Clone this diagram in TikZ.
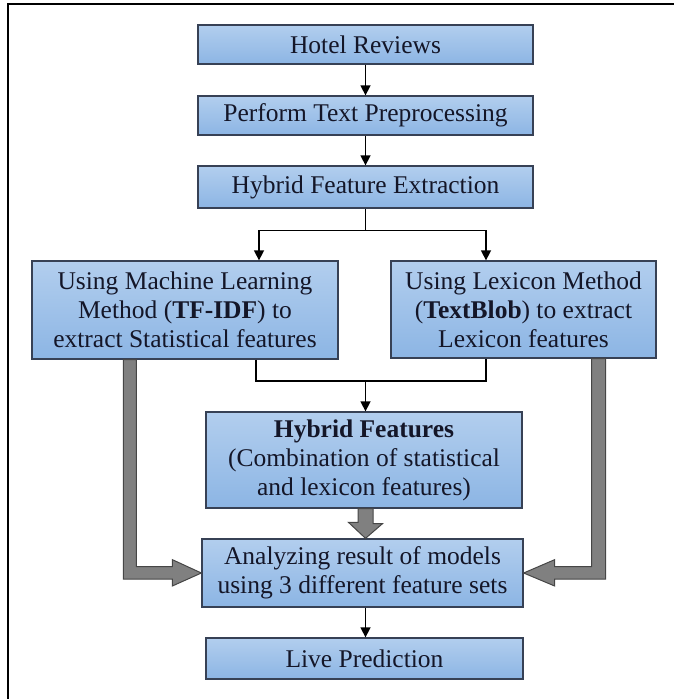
\documentclass[tikz,border=0pt]{standalone}
\usepackage{fontspec}
\setmainfont{Liberation Serif}
\usetikzlibrary{arrows.meta,calc}
\definecolor{boxtop}{RGB}{178,206,238}
\definecolor{boxbot}{RGB}{140,181,228}
\definecolor{boxline}{RGB}{55,65,85}
\definecolor{txt}{RGB}{20,22,40}
\definecolor{garrow}{RGB}{128,128,128}
\definecolor{garrowline}{RGB}{70,70,70}
\tikzset{
  stepbox/.style={draw=boxline, line width=1.3pt, top color=boxtop, bottom color=boxbot,
    inner sep=0pt, align=center, text=txt, font=\fontsize{25.5}{29}\selectfont},
  conn/.style={line width=1.5pt, black},
  arr/.style={conn, -{Triangle[length=10pt,width=10pt]}},
  fatarrow/.style={fill=garrow, draw=garrowline, line width=1pt, line join=miter},
}
\begin{document}
\begin{tikzpicture}[x=1pt,y=-1pt]
\useasboundingbox (0,0) rectangle (673,699);
\draw[line width=1.6pt] (8,4) rectangle (677,704);

\node[stepbox, minimum width=335pt, minimum height=39pt] (hr) at (365.5,44.5) {Hotel Reviews};
\node[stepbox, minimum width=335pt, minimum height=39pt] (pt) at (365.5,115.5) {Perform Text Preprocessing};
\node[stepbox, minimum width=335pt, minimum height=42pt] (hfe) at (365.5,187) {Hybrid Feature Extraction};
\node[stepbox, minimum width=306pt, minimum height=98pt] (ml) at (185,310)
  {Using Machine Learning\\Method (\textbf{TF-IDF}) to\\extract Statistical features};
\node[stepbox, minimum width=265pt, minimum height=97pt] (lx) at (523.5,309.5)
  {Using Lexicon Method\\(\textbf{TextBlob}) to extract\\Lexicon features};
\node[stepbox, minimum width=316pt, minimum height=96pt] (hf) at (364,460)
  {\textbf{Hybrid Features}\\(Combination of statistical\\and lexicon features)};
\node[stepbox, minimum width=321pt, minimum height=68pt] (an) at (362.5,573)
  {Analyzing result of models\\using 3 different feature sets};
\node[stepbox, minimum width=317pt, minimum height=41pt] (lp) at (364.5,658.5) {Live Prediction};

\coordinate (split) at ($(hfe.south)+(0,22)$);
\coordinate (xl) at (259,0);
\coordinate (xr) at (486,0);
\coordinate (jl) at (256,0);
\coordinate (join) at (365.5,381);

\draw[arr] (hr) -- (pt);
\draw[arr] (pt) -- (hfe);
\draw[conn] (hfe.south) -- (split);
\draw[arr] (split) -| (ml.north -| xl);
\draw[arr] (split) -| (lx.north -| xr);
\draw[conn] (ml.south -| jl) |- (join) -| (lx.south -| xr);
\draw[arr] (join) -- (join |- hf.north);
\draw[arr] (an.south -| join) -- (lp.north -| join);

\filldraw[fatarrow] ($(hf.south -| join)+(-7.5,0)$) -- ++(15,0) -- ++(0,15) -- ++(9.5,0)
  -- (an.north -| join) -- ++(-17,-16) -- ++(9.5,0) -- cycle;
\filldraw[fatarrow] ($(ml.south west)+(92,0)$) -- ++(13,0) -- ++(0,207) -- ++(36,0) -- ++(0,-7)
  -- (an.west) -- ++(-29,13) -- ++(0,-7) -- ++(-49,0) -- cycle;
\filldraw[fatarrow] ($(lx.south east)+(-51,0)$) -- ++(-14,0) -- ++(0,208) -- ++(-37,0) -- ++(0,-7)
  -- (an.east) -- ++(31,13) -- ++(0,-7) -- ++(51,0) -- cycle;
\end{tikzpicture}
\end{document}
